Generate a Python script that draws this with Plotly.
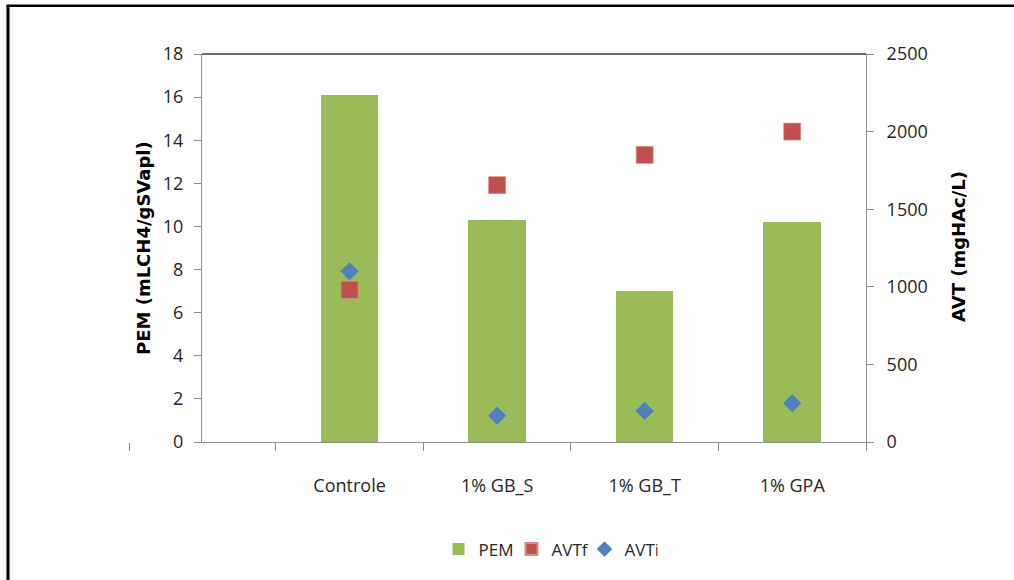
import plotly.graph_objects as go

# Treatments (first slot of the category axis is left empty)
categories = ["Controle", "1% GB_S", "1% GB_T", "1% GPA"]
pem = [16.1, 10.3, 7.0, 10.2]          # mLCH4/gSVapl
avt_final = [980, 1655, 1850, 2000]    # mgHAc/L
avt_initial = [1100, 170, 200, 250]    # mgHAc/L

left_ticks = list(range(0, 19, 2))
right_ticks = list(range(0, 2501, 500))

W, H = 1014, 580
L, R, T, B = 202, 866, 54, 444


def fx(p):
    return (p - L) / (R - L)


def fy(p):
    return (B - p) / (B - T)


xpos = [i + 1 for i in range(len(categories))]

GREEN = "#9BBB59"
RED = "#C0504D"
BLUE = "#4F81BD"
AXIS = "#8C8C8C"
TXT = "#262626"

fig = go.Figure()
fig.add_trace(go.Bar(
    x=xpos, y=pem, name="PEM", width=0.39,
    marker=dict(color=GREEN, line=dict(width=0)),
))
fig.add_trace(go.Scatter(
    x=xpos, y=avt_final, name="AVTf", mode="markers", yaxis="y2",
    marker=dict(symbol="square", size=17, color=RED,
                line=dict(width=0.6, color="#D88A88")),
))
fig.add_trace(go.Scatter(
    x=xpos, y=avt_initial, name="AVTi", mode="markers", yaxis="y2",
    marker=dict(symbol="diamond", size=14, color=BLUE,
                line=dict(width=0)),
))

tick_font = dict(family="Open Sans, DejaVu Sans, sans-serif", size=18, color=TXT)

fig.update_layout(
    width=W, height=H, autosize=False,
    margin=dict(l=L, r=W - R, t=T, b=H - B, pad=0),
    paper_bgcolor="white", plot_bgcolor="white",
    bargap=0,
    showlegend=True,
    legend=dict(
        orientation="h", x=fx(548), y=fy(552), xanchor="center", yanchor="middle",
        font=dict(family="Open Sans, DejaVu Sans, sans-serif", size=17, color=TXT),
        itemsizing="constant", traceorder="normal", entrywidth=28,
        bgcolor="rgba(0,0,0,0)",
    ),
    xaxis=dict(
        range=[0, 4.5], tickmode="array", tickvals=xpos, ticktext=categories,
        ticks="", showgrid=False, zeroline=False,
        showline=True, linecolor=AXIS, linewidth=1,
        tickfont=tick_font, ticklabelstandoff=27,
        minor=dict(tickmode="array", tickvals=[0.5, 1.5, 2.5, 3.5, 4.5],
                   ticks="outside", ticklen=8, tickcolor=AXIS, tickwidth=1,
                   showgrid=False),
        fixedrange=True,
    ),
    yaxis=dict(
        range=[0, 18], tickmode="array", tickvals=left_ticks,
        ticks="outside", ticklen=7, tickcolor=AXIS, tickwidth=1,
        showline=True, linecolor=AXIS, linewidth=1,
        showgrid=False, zeroline=False,
        tickfont=tick_font, ticklabelstandoff=7,
    ),
    yaxis2=dict(
        range=[0, 2500], tickmode="array", tickvals=right_ticks,
        overlaying="y", side="right",
        ticks="outside", ticklen=7, tickcolor=AXIS, tickwidth=1,
        showline=True, linecolor=AXIS, linewidth=1,
        showgrid=False, zeroline=False,
        tickfont=tick_font, ticklabelstandoff=9,
    ),
    annotations=[
        dict(text="<b>PEM (mLCH4/gSVapl)</b>", textangle=-90,
             x=fx(143), y=fy(249), xref="paper", yref="paper",
             showarrow=False, xanchor="center", yanchor="middle",
             font=dict(family="DejaVu Sans, sans-serif", size=18, color="black")),
        dict(text="<b>AVT (mgHAc/L)</b>", textangle=-90,
             x=fx(958), y=fy(248), xref="paper", yref="paper",
             showarrow=False, xanchor="center", yanchor="middle",
             font=dict(family="DejaVu Sans, sans-serif", size=18, color="black")),
    ],
    shapes=[
        # dark rule along the top of the plot area
        dict(type="line", xref="paper", yref="paper", x0=0, x1=1, y0=1, y1=1,
             line=dict(color="#3A3A3A", width=1.5)),
        # stray category tick left of the value axis
        dict(type="line", xref="paper", yref="paper",
             x0=fx(129.5), x1=fx(129.5), y0=fy(445), y1=fy(453),
             line=dict(color=AXIS, width=1)),
        # outer frame (left and top edges)
        dict(type="line", xref="paper", yref="paper",
             x0=fx(8), x1=fx(8), y0=fy(5), y1=fy(585),
             line=dict(color="black", width=3)),
        dict(type="line", xref="paper", yref="paper",
             x0=fx(6.5), x1=fx(1020), y0=fy(5.5), y1=fy(5.5),
             line=dict(color="black", width=2.5)),
    ],
)

fig.write_html("out.html")
